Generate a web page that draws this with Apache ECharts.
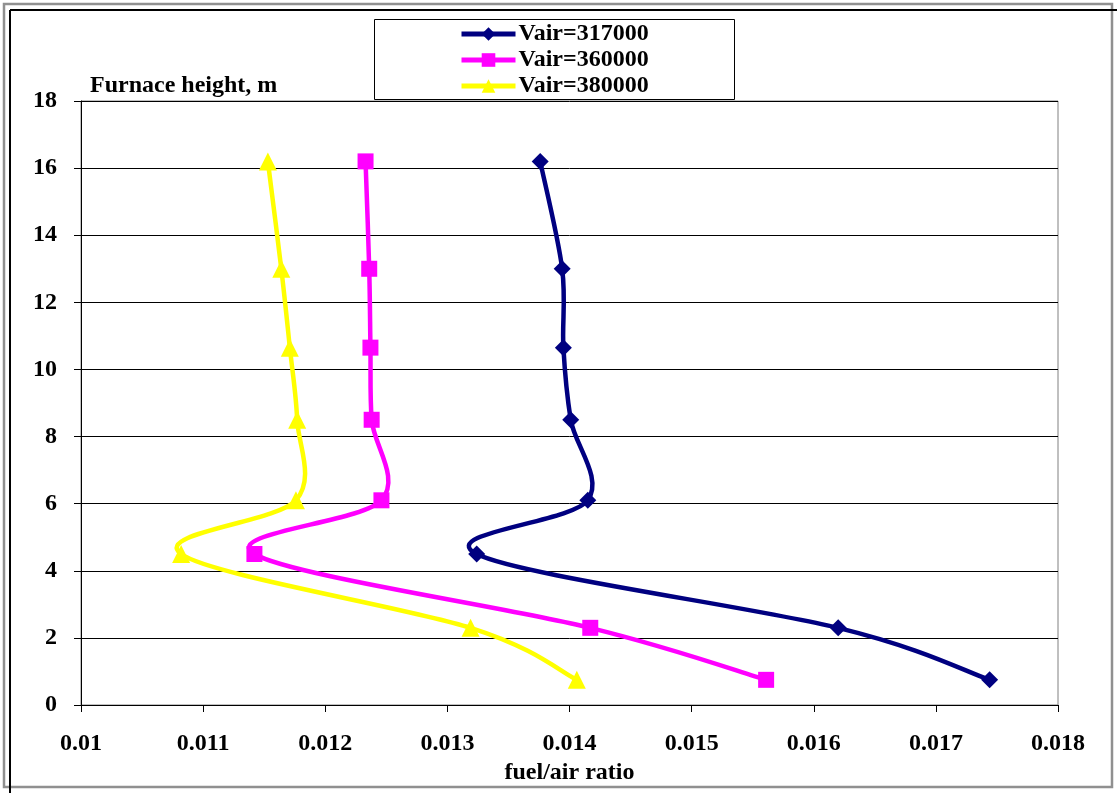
<!DOCTYPE html>
<html><head><meta charset="utf-8">
<script src="https://cdn.jsdelivr.net/npm/echarts@6/dist/echarts.min.js"></script>
<style>html,body{margin:0;padding:0;background:#fff}#c{width:1117px;height:793px}</style>
</head><body><div id="c"></div>
<script>
const heights = [16.2, 13.0, 10.65, 8.5, 6.1, 4.5, 2.3, 0.75];
const fa317 = [0.01376, 0.01394, 0.01395, 0.01401, 0.01415, 0.01324, 0.01620, 0.01744];
const fa360 = [0.01233, 0.01236, 0.01237, 0.01238, 0.01246, 0.01142, 0.01417, 0.01561];
const fa380 = [0.01153, 0.01164, 0.01171, 0.01177, 0.01176, 0.01082, 0.01319, 0.01406];
const seriesNames = ['Vair=317000', 'Vair=360000', 'Vair=380000'];
const seriesColors = ['#000080', '#FF00FF', '#FFFF00'];
const xTicks = ['0.01','0.011','0.012','0.013','0.014','0.015','0.016','0.017','0.018'];

const font = '"Liberation Serif","Times New Roman",serif';
const pair = (xs) => xs.map((x, i) => [x, heights[i]]);
const allData = [pair(fa317), pair(fa360), pair(fa380)];

// Excel-style smoothed curve (Catmull-Rom -> cubic Bezier) drawn in pixel space via api.coord
function curveRenderer(data, color) {
  return function (params, api) {
    if (params.dataIndex !== 0) return null;
    const p = data.map(d => api.coord(d));
    const n = p.length, k = 1 / 6, children = [];
    for (let i = 0; i < n - 1; i++) {
      const p0 = p[Math.max(i - 1, 0)], p1 = p[i], p2 = p[i + 1], p3 = p[Math.min(i + 2, n - 1)];
      children.push({
        type: 'bezierCurve',
        shape: {
          x1: p1[0], y1: p1[1], x2: p2[0], y2: p2[1],
          cpx1: p1[0] + (p2[0] - p0[0]) * k, cpy1: p1[1] + (p2[1] - p0[1]) * k,
          cpx2: p2[0] - (p3[0] - p1[0]) * k, cpy2: p2[1] - (p3[1] - p1[1]) * k
        },
        style: { stroke: color, lineWidth: 4.5, fill: null, lineCap: 'round', lineJoin: 'round' }
      });
    }
    return { type: 'group', children: children };
  };
}

const chart = echarts.init(document.getElementById('c'));
const symbols = ['diamond', 'rect', 'triangle'];
const symbolSizes = [17, 16, 18];
const series = [];
allData.forEach((d, i) => {
  series.push({
    name: 'curve' + i, type: 'custom', data: d, z: 1, silent: true,
    encode: { x: 0, y: 1 }, renderItem: curveRenderer(d, seriesColors[i])
  });
});
allData.forEach((d, i) => {
  series.push({
    name: seriesNames[i], type: 'line', data: d, z: 3, symbol: symbols[i], symbolSize: symbolSizes[i],
    lineStyle: { color: seriesColors[i], width: 4.5, opacity: 0 }, itemStyle: { color: seriesColors[i] }
  });
});

chart.setOption({
  animation: false,
  backgroundColor: '#fff',
  textStyle: { fontFamily: font },
  grid: { left: 81, right: 59, top: 101, bottom: 88, show: true, borderColor: '#808080', borderWidth: 1 },
  xAxis: {
    type: 'value', min: 0.01, max: 0.018, interval: 0.001,
    name: 'fuel/air ratio', nameLocation: 'middle', nameGap: 54,
    nameTextStyle: { fontFamily: font, fontWeight: 'bold', fontSize: 24, color: '#000' },
    axisLine: { lineStyle: { color: '#000', width: 1 } },
    axisTick: { show: true, length: 7, lineStyle: { color: '#000' } },
    axisLabel: { fontFamily: font, fontWeight: 'bold', fontSize: 24, color: '#000', margin: 27,
      formatter: (v) => { const i = Math.round((v - 0.01) / 0.001); return xTicks[i] || ''; } },
    splitLine: { show: false }
  },
  yAxis: {
    type: 'value', min: 0, max: 18, interval: 2,
    name: 'Furnace height, m', nameLocation: 'end', nameGap: 3,
    nameTextStyle: { fontFamily: font, fontWeight: 'bold', fontSize: 24, color: '#000', align: 'left', padding: [0, 0, 0, 9] },
    axisLine: { show: true, lineStyle: { color: '#000', width: 1 } },
    axisTick: { show: true, length: 7, lineStyle: { color: '#000' } },
    axisLabel: { fontFamily: font, fontWeight: 'bold', fontSize: 24, color: '#000', margin: 24 },
    splitLine: { show: true, lineStyle: { color: '#000', width: 1 } }
  },
  legend: {
    orient: 'vertical', left: 459, top: 22, padding: 0, itemGap: 2, itemWidth: 54, itemHeight: 17,
    lineStyle: { width: 5, opacity: 1 },
    textStyle: { fontFamily: font, fontWeight: 'bold', fontSize: 24, color: '#000', padding: [0,0,0,-2] },
    data: seriesNames
  },
  graphic: [
    { type: 'rect', shape: { x: 4, y: 4, width: 1108, height: 783 }, style: { fill: 'none', stroke: '#909090', lineWidth: 2.5 }, silent: true },
    { type: 'line', shape: { x1: 10, y1: 10, x2: 1117, y2: 10 }, style: { stroke: '#000', lineWidth: 2 }, silent: true },
    { type: 'line', shape: { x1: 10, y1: 10, x2: 10, y2: 793 }, style: { stroke: '#000', lineWidth: 2 }, silent: true },
    { type: 'rect', shape: { x: 374.5, y: 19.5, width: 360, height: 80 }, style: { fill: '#fff', stroke: '#000', lineWidth: 1 }, z: -1, silent: true }
  ],
  series: series
});
</script></body></html>
